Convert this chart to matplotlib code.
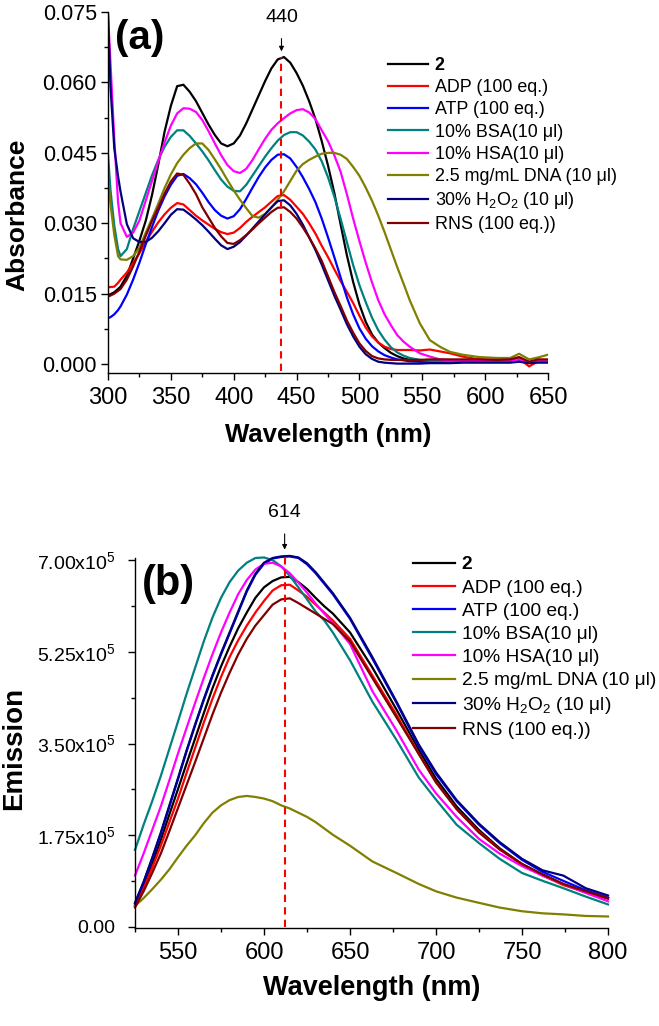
import matplotlib
matplotlib.use("Agg")
import matplotlib.pyplot as plt
from matplotlib.ticker import MultipleLocator, FuncFormatter

plt.rcParams['font.family'] = ['Liberation Sans', 'DejaVu Sans']
plt.rcParams['mathtext.fontset'] = 'custom'
plt.rcParams['mathtext.rm'] = 'Liberation Sans'
plt.rcParams['mathtext.it'] = 'Liberation Sans:italic'
plt.rcParams['mathtext.bf'] = 'Liberation Sans:bold'

# ---- panel (a): absorbance, values in units of 1e-3 ----
wl_a = [300, 302, 305, 308, 310, 315, 320, 325, 330, 335, 340, 345, 350, 355, 360, 365, 370, 375,
        380, 385, 390, 395, 400, 405, 410, 415, 420, 425, 430, 435, 440, 445, 450, 455, 460, 465,
        470, 475, 480, 485, 490, 495, 500, 505, 510, 515, 520, 525, 530, 535, 540,
        548, 556, 564, 572, 582, 595, 610, 620, 627, 635, 642, 650]

abs_2 = [14.7, 14.9, 15.3, 16.0, 16.5, 18.8, 22.5, 26.3, 30.5, 36.0, 42.5, 49.5, 55.0, 59.2, 59.5, 58.0, 56.0, 53.5,
         51.0, 48.8, 47.0, 46.4, 47.0, 48.7, 51.3, 54.3, 57.3, 60.3, 63.0, 64.9, 65.4, 64.2, 62.0, 59.3, 56.0, 52.2,
         47.5, 42.3, 36.5, 29.8, 23.2, 17.5, 12.7, 9.0, 6.3, 4.6, 3.4, 2.4, 1.7, 1.2, 0.9,
         0.7, 0.6, 0.6, 0.6, 0.6, 0.6, 0.5, 0.6, 1.0, 0.4, 0.7, 0.6]
abs_adp = [16.4, 16.4, 16.5, 17.3, 18.0, 19.5, 21.5, 23.6, 26.0, 28.2, 30.2, 31.9, 33.3, 34.3, 34.0, 32.8, 31.6, 30.6,
           29.7, 28.8, 28.1, 27.7, 28.0, 29.0, 30.3, 31.4, 32.4, 33.4, 34.6, 35.8, 36.0, 35.0, 33.5, 32.0, 30.0, 27.8,
           25.2, 22.8, 20.2, 17.7, 15.4, 13.0, 10.3, 7.8, 5.9, 4.6, 3.7, 3.2, 3.0, 3.0, 3.0,
           2.9, 3.1, 2.7, 2.3, 1.6, 1.0, 0.8, 0.7, 1.2, -0.5, 0.6, 0.8]
abs_atp = [9.8, 10.0, 10.6, 11.5, 12.3, 14.8, 18.0, 21.6, 25.5, 29.2, 32.7, 35.7, 38.2, 40.1, 40.5, 39.6, 38.3, 36.5,
           34.5, 32.8, 31.6, 31.0, 31.5, 33.0, 35.2, 37.6, 39.9, 41.9, 43.5, 44.6, 44.7, 43.8, 42.0, 39.8, 37.3, 34.5,
           31.0, 27.0, 22.8, 18.5, 14.2, 10.6, 7.6, 5.4, 3.8, 2.7, 1.9, 1.4, 1.0, 0.8, 0.6,
           0.5, 0.5, 0.5, 0.5, 0.5, 0.5, 0.5, 0.5, 0.8, 0.3, 0.5, 0.5]
abs_bsa = [44.5, 37.0, 29.5, 24.5, 23.0, 24.5, 28.8, 32.6, 36.4, 40.2, 43.5, 46.3, 48.4, 49.8, 49.8, 48.6, 47.0, 45.3,
           43.4, 41.3, 39.3, 37.8, 36.9, 36.8, 38.2, 40.2, 42.2, 44.2, 46.0, 47.6, 48.8, 49.4, 49.4, 48.7, 47.4, 45.7,
           43.2, 39.8, 35.7, 31.0, 26.0, 21.1, 16.8, 13.2, 9.9, 7.2, 5.2, 3.6, 2.5, 1.8, 1.3,
           0.9, 0.7, 0.6, 0.6, 0.6, 0.6, 0.6, 0.6, 0.9, 0.4, 0.6, 0.6]
abs_hsa = [74.5, 64.0, 48.0, 34.5, 30.0, 27.1, 28.0, 30.6, 34.8, 39.0, 43.2, 47.2, 50.8, 53.4, 54.5, 54.4, 53.7, 52.0,
           49.6, 47.0, 44.5, 42.4, 41.1, 40.7, 41.6, 43.5, 45.8, 48.0, 49.9, 51.3, 52.4, 53.4, 54.1, 54.3, 53.6, 52.2,
           49.8, 47.5, 44.5, 41.0, 36.2, 31.0, 26.2, 21.6, 17.4, 13.6, 10.6, 8.3, 6.2, 4.8, 3.7,
           2.3, 1.6, 1.0, 0.8, 0.7, 0.7, 0.6, 0.6, 1.0, 0.4, 0.6, 0.6]
abs_dna = [40.0, 34.0, 27.5, 23.0, 22.3, 22.2, 23.0, 24.8, 28.0, 31.0, 34.2, 37.5, 40.4, 42.8, 44.6, 46.0, 47.0, 47.0,
           45.6, 43.6, 41.5, 39.2, 37.0, 35.0, 33.2, 31.5, 31.2, 32.0, 33.3, 35.0, 36.8, 39.0, 41.2, 42.6, 43.5, 44.2,
           44.8, 45.0, 45.0, 44.6, 43.7, 42.0, 40.1, 37.6, 34.8, 31.6, 28.1, 24.4, 20.7, 17.2, 13.6,
           8.7, 5.1, 3.7, 2.6, 2.0, 1.5, 1.3, 1.3, 2.2, 1.0, 1.4, 2.0]
abs_h2o2 = [74.5, 59.0, 46.0, 40.0, 36.7, 29.8, 26.8, 26.0, 26.0, 26.9, 28.3, 30.0, 31.8, 33.0, 32.9, 31.9, 30.8, 29.6,
            28.2, 26.7, 25.3, 24.5, 25.0, 26.0, 27.4, 28.9, 30.4, 31.9, 33.4, 34.7, 34.9, 33.8, 32.0, 29.7, 27.0, 24.3,
            21.2, 17.9, 14.6, 11.6, 8.5, 5.9, 3.7, 2.1, 1.1, 0.5, 0.3, 0.2, 0.1, 0.1, 0.1,
            0.1, 0.2, 0.2, 0.2, 0.3, 0.3, 0.3, 0.3, 0.5, 0.2, 0.3, 0.3]
abs_rns = [14.4, 14.6, 15.0, 15.6, 16.0, 18.0, 20.8, 24.0, 27.3, 30.5, 33.3, 36.3, 38.9, 40.6, 40.3, 38.4, 36.2, 33.4,
           31.2, 29.0, 27.2, 25.8, 25.6, 26.4, 27.5, 28.7, 30.0, 31.2, 32.4, 33.3, 33.4, 32.4, 31.0, 29.1, 27.0, 24.6,
           22.0, 18.7, 15.4, 12.4, 9.3, 6.7, 4.4, 2.8, 1.7, 1.2, 1.0, 0.9, 0.9, 0.9, 0.9,
           0.9, 1.0, 1.0, 1.0, 1.0, 1.0, 0.9, 1.0, 1.5, 0.5, 1.0, 1.0]

# ---- panel (b): emission, values in units of 1e5 ----
wl_b = [525, 530, 535, 540, 545, 550, 555, 560, 565, 570, 575, 580, 585, 590, 595, 600, 605, 610,
        615, 620, 625, 630, 635, 640, 650, 663, 677, 690, 700, 712, 725, 737, 750, 762, 774, 787, 800]

em_2 = [0.42, 0.78, 1.20, 1.66, 2.15, 2.63, 3.12, 3.60, 4.08, 4.55, 4.97, 5.35, 5.70, 6.00, 6.28, 6.48, 6.60, 6.67,
        6.68, 6.58, 6.45, 6.28, 6.12, 5.98, 5.62, 4.95, 4.15, 3.38, 2.83, 2.30, 1.85, 1.50, 1.20, 1.00, 0.82, 0.66, 0.54]
em_adp = [0.40, 0.74, 1.13, 1.55, 2.00, 2.45, 2.94, 3.42, 3.90, 4.35, 4.77, 5.15, 5.47, 5.75, 6.00, 6.22, 6.42, 6.52,
          6.53, 6.42, 6.30, 6.15, 6.00, 5.85, 5.50, 4.80, 4.05, 3.30, 2.76, 2.25, 1.82, 1.48, 1.20, 0.98, 0.80, 0.66, 0.55]
em_atp = [0.45, 0.85, 1.30, 1.78, 2.30, 2.82, 3.35, 3.85, 4.33, 4.78, 5.20, 5.60, 6.00, 6.40, 6.72, 6.93, 7.03, 7.06,
          7.07, 7.04, 6.92, 6.75, 6.55, 6.35, 5.88, 5.12, 4.28, 3.45, 2.92, 2.40, 1.95, 1.60, 1.28, 1.05, 0.88, 0.70, 0.56]
em_bsa = [1.47, 1.95, 2.40, 2.88, 3.40, 3.92, 4.45, 4.95, 5.45, 5.90, 6.28, 6.58, 6.80, 6.95, 7.04, 7.05, 7.00, 6.88,
          6.70, 6.48, 6.25, 6.02, 5.85, 5.62, 5.09, 4.30, 3.57, 2.85, 2.43, 1.95, 1.60, 1.30, 1.03, 0.88, 0.74, 0.58, 0.43]
em_hsa = [0.98, 1.40, 1.85, 2.30, 2.80, 3.31, 3.80, 4.28, 4.75, 5.20, 5.62, 6.00, 6.35, 6.62, 6.82, 6.93, 6.95, 6.88,
          6.75, 6.57, 6.38, 6.17, 5.98, 5.80, 5.40, 4.50, 3.75, 3.00, 2.55, 2.10, 1.68, 1.40, 1.16, 0.98, 0.82, 0.65, 0.49]
em_dna = [0.40, 0.55, 0.72, 0.90, 1.10, 1.33, 1.55, 1.75, 1.98, 2.18, 2.32, 2.42, 2.48, 2.50, 2.48, 2.45, 2.40, 2.32,
          2.26, 2.18, 2.10, 2.00, 1.88, 1.76, 1.55, 1.25, 1.03, 0.82, 0.68, 0.56, 0.46, 0.37, 0.30, 0.26, 0.24, 0.21, 0.20]
em_h2o2 = [0.46, 0.86, 1.32, 1.80, 2.32, 2.84, 3.37, 3.87, 4.35, 4.80, 5.22, 5.62, 6.02, 6.42, 6.74, 6.95, 7.04, 7.07,
           7.08, 7.05, 6.94, 6.77, 6.57, 6.37, 5.90, 5.15, 4.30, 3.48, 2.95, 2.42, 1.97, 1.62, 1.30, 1.08, 0.98, 0.74, 0.60]
em_rns = [0.37, 0.68, 1.03, 1.40, 1.83, 2.27, 2.71, 3.15, 3.60, 4.05, 4.47, 4.85, 5.20, 5.50, 5.75, 5.95, 6.15, 6.25,
          6.27, 6.18, 6.08, 5.98, 5.88, 5.78, 5.45, 4.75, 4.00, 3.30, 2.76, 2.25, 1.80, 1.48, 1.20, 1.00, 0.82, 0.68, 0.55]

labels = ['2', 'ADP (100 eq.)', 'ATP (100 eq.)', '10% BSA(10 \u03bcl)', '10% HSA(10 \u03bcl)',
          '2.5 mg/mL DNA (10 \u03bcl)', '30% H$_2$O$_2$ (10 \u03bcl)', 'RNS (100 eq.))']
colors = ['#000000', '#ff0000', '#0000ff', '#008080', '#ff00ff', '#808000', '#000080', '#800000']

abs_all = [abs_2, abs_adp, abs_atp, abs_bsa, abs_hsa, abs_dna, abs_h2o2, abs_rns]
em_all = [em_2, em_adp, em_atp, em_bsa, em_hsa, em_dna, em_h2o2, em_rns]

W, H = 659, 1026
fig = plt.figure(figsize=(W / 100, H / 100), dpi=100)

def px_axes(l, t, r, b):
    return fig.add_axes([l / W, 1 - b / H, (r - l) / W, (b - t) / H])

def style(ax, xfs, yfs):
    for s in ['top', 'right']:
        ax.spines[s].set_visible(False)
    for s in ['left', 'bottom']:
        ax.spines[s].set_linewidth(1.0)
    ax.tick_params(which='major', direction='out', length=5, width=1.0)
    ax.tick_params(which='minor', direction='out', length=3, width=1.0)
    ax.tick_params(axis='x', labelsize=xfs)
    ax.tick_params(axis='y', labelsize=yfs)

# ---- (a) ----
ax1 = px_axes(108, 12, 548, 373)
for ys, c, lab in zip(abs_all, colors, labels):
    ax1.plot(wl_a, [v / 1000 for v in ys], color=c, lw=1.6, label=lab)
ax1.set_xlim(300, 650)
ax1.set_ylim(-0.0019, 0.075)
ax1.xaxis.set_major_locator(MultipleLocator(50))
ax1.xaxis.set_minor_locator(MultipleLocator(25))
ax1.yaxis.set_major_locator(MultipleLocator(0.015))
ax1.yaxis.set_minor_locator(MultipleLocator(0.0075))
ax1.yaxis.set_major_formatter(FuncFormatter(lambda v, p: '%.3f' % v))
style(ax1, 17, 15.5)
ax1.tick_params(axis='x', pad=5)
ax1.tick_params(axis='y', pad=3)
ax1.plot([438, 438], [-0.0015, 0.0655], color='#ff0000', lw=1.5, dashes=(3.5, 2.5), clip_on=False)
ax1.annotate('440', xy=(438, 0.0666), xytext=(438, 0.0738), ha='center', va='center', fontsize=14,
             arrowprops=dict(arrowstyle='-|>', color='black', lw=0.8, mutation_scale=7,
                             shrinkA=7, shrinkB=0))
leg1 = ax1.legend(loc='upper left', bbox_to_anchor=(388 / W, 1 - 57 / H), bbox_transform=fig.transFigure,
                  frameon=False, fontsize=12.9, handlelength=2.25, handletextpad=0.35,
                  labelspacing=0.29, borderaxespad=0, borderpad=0)
leg1.get_texts()[0].set_fontweight('bold')
fig.text(140 / W, 1 - 38 / H, '(a)', fontsize=29, fontweight='bold', ha='center', va='center')
fig.text(17 / W, 1 - 215 / H, 'Absorbance', fontsize=19, fontweight='bold', rotation=90,
         ha='center', va='center')
fig.text(328 / W, 1 - 442 / H, 'Wavelength (nm)', fontsize=18.5, fontweight='bold',
         ha='center', va='baseline')

# ---- (b) ----
ax2 = px_axes(135, 558, 608, 928)
for ys, c, lab in zip(em_all, colors, labels):
    ax2.plot(wl_b, ys, color=c, lw=1.6, label=lab, clip_on=False)
ax2.set_xlim(525, 800)
ax2.set_ylim(-0.02, 7.04)
ax2.xaxis.set_major_locator(MultipleLocator(50))
ax2.xaxis.set_minor_locator(MultipleLocator(25))
ax2.yaxis.set_major_locator(MultipleLocator(1.75))
ax2.yaxis.set_minor_locator(MultipleLocator(0.875))

def em_fmt(v, p):
    if abs(v) < 1e-9:
        return '0.00'
    return '%.2fx10$^5$' % v

ax2.yaxis.set_major_formatter(FuncFormatter(em_fmt))
style(ax2, 17, 14)
ax2.tick_params(axis='x', pad=5)
ax2.tick_params(axis='y', pad=9)
ax2.plot([612, 612], [0, 7.05], color='#ff0000', lw=1.5, dashes=(3.5, 2.5), clip_on=False)
ax2.annotate('614', xy=(612, 7.2), xytext=(612, 7.9), ha='center', va='center', fontsize=14,
             annotation_clip=False,
             arrowprops=dict(arrowstyle='-|>', color='black', lw=0.8, mutation_scale=7,
                             shrinkA=7, shrinkB=0))
leg2 = ax2.legend(loc='upper left', bbox_to_anchor=(413 / W, 1 - 556 / H), bbox_transform=fig.transFigure,
                  frameon=False, fontsize=13.8, handlelength=2.2, handletextpad=0.35,
                  labelspacing=0.3, borderaxespad=0, borderpad=0)
leg2.get_texts()[0].set_fontweight('bold')
fig.text(168 / W, 1 - 584 / H, '(b)', fontsize=30, fontweight='bold', ha='center', va='center')
fig.text(14 / W, 1 - 748 / H, 'Emission', fontsize=20, fontweight='bold', rotation=90,
         ha='center', va='center')
fig.text(372 / W, 1 - 995 / H, 'Wavelength (nm)', fontsize=19.5, fontweight='bold',
         ha='center', va='baseline')

fig.savefig('out.png', dpi=100)
